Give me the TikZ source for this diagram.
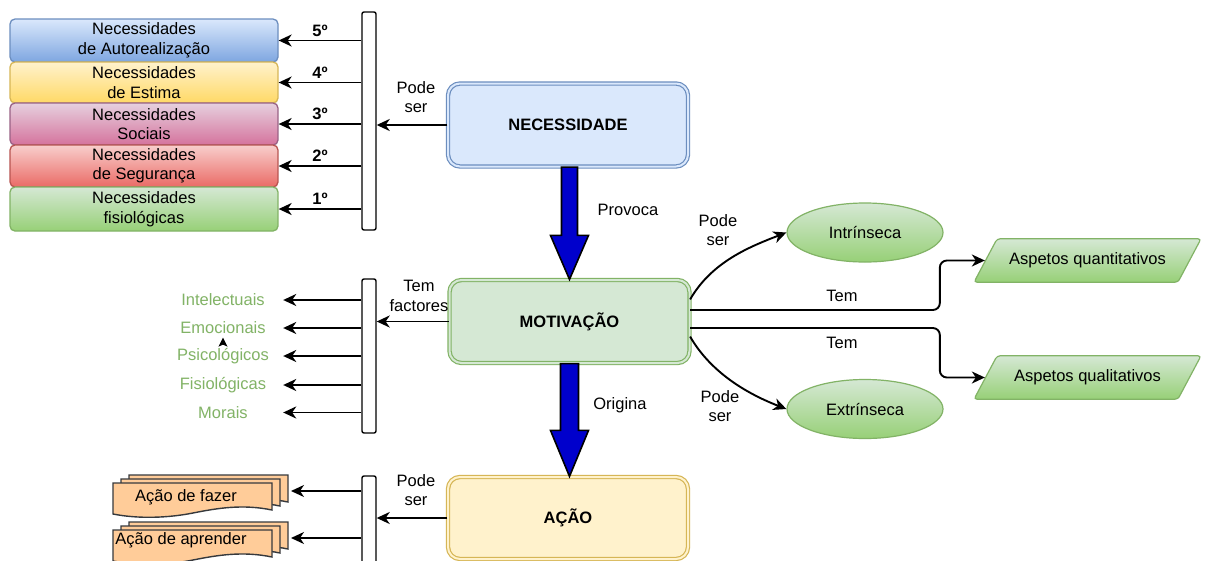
\documentclass[tikz,border=0pt]{standalone}
\usepackage{fontspec}
\setmainfont{Liberation Sans}
\usetikzlibrary{arrows.meta,calc,shapes.geometric}

\definecolor{blueTop}{HTML}{DAE8FC}
\definecolor{blueBot}{HTML}{7EA6E0}
\definecolor{blueLine}{HTML}{6C8EBF}
\definecolor{yelTop}{HTML}{FFF2CC}
\definecolor{yelBot}{HTML}{FFD966}
\definecolor{yelLine}{HTML}{D6B656}
\definecolor{pinkTop}{HTML}{E6D0DE}
\definecolor{pinkBot}{HTML}{D5739D}
\definecolor{pinkLine}{HTML}{996185}
\definecolor{redTop}{HTML}{F8CECC}
\definecolor{redBot}{HTML}{EA6B66}
\definecolor{redLine}{HTML}{B85450}
\definecolor{grnTop}{HTML}{D5E8D4}
\definecolor{grnBot}{HTML}{97D077}
\definecolor{grnLine}{HTML}{82B366}
\definecolor{factorGreen}{HTML}{82B366}
\definecolor{arrowBlue}{HTML}{0000CC}
\definecolor{docOrange}{HTML}{FFCC99}
\definecolor{docLine}{HTML}{36393D}

% three stacked document sheets; #1 left x, #2 top y, #3 connector end
\newcommand\docstack[3]{%
  \foreach \k in {2,1,0}{
    \filldraw[docsheet, shift={({#1+\k*8},{#2+8-\k*4})}]
      (0,0) -- (159,0) -- (159,27) .. controls (130,21) and (105,25) .. (80,30)
      .. controls (55,35) and (25,36) .. (0,31) -- cycle;
  }
  \coordinate (#3) at ({#1+178},{#2+16});
}

\begin{document}
\begin{tikzpicture}[x=1pt,y=-1pt,
  font=\fontsize{16.5}{19.5}\selectfont,
  every node/.style={align=center},
  arr/.style={line width=1.9pt,-{Stealth[length=13pt,width=12pt,inset=4pt]}},
  lvl/.style n args={3}{draw=#1,top color=#2,bottom color=#3,rounded corners=5pt,
    minimum width=268pt,line width=1.3pt,inner sep=0pt},
  bar/.style={draw,fill=white,minimum width=14pt,inner sep=0pt,rounded corners=2pt,line width=1.4pt},
  big/.style 2 args={draw=#1,fill=#2,double=#2,double distance=2pt,line width=1.2pt,
    rounded corners=12pt,minimum width=240pt,minimum height=83pt,font=\fontsize{16.5}{19.5}\selectfont\bfseries},
  bigarr/.style={fill=arrowBlue,draw=black,line width=1.6pt,line join=miter},
  ell/.style={ellipse,draw=grnLine,top color=grnTop,bottom color=grnBot,line width=1.2pt,
    minimum width=156pt,minimum height=59pt},
  para/.style={trapezium,trapezium left angle=62,trapezium right angle=118,trapezium stretches body,
    draw=grnLine,top color=grnTop,bottom color=grnBot,line width=1.2pt,rounded corners=3pt,
    inner ysep=14pt,minimum width=227pt},
  factor/.style={text=factorGreen,minimum width=120pt},
  docsheet/.style={fill=docOrange,draw=docLine,line width=1.4pt},
]
\useasboundingbox (0,0) rectangle (1205,560);
\fill[white] (0,0) rectangle (1205,560);

% Maslow levels
\node[lvl={blueLine}{blueTop}{blueBot},minimum height=43pt] (n5) at (144,40.5) {Necessidades\\de Autorealização};
\node[lvl={yelLine}{yelTop}{yelBot},minimum height=41pt] (n4) at (144,82.5) {Necessidades\\de Estima};
\node[lvl={pinkLine}{pinkTop}{pinkBot},minimum height=42pt] (n3) at (144,124) {Necessidades\\Sociais};
\node[lvl={redLine}{redTop}{redBot},minimum height=42pt] (n2) at (144,166) {Necessidades\\de Segurança};
\node[lvl={grnLine}{grnTop}{grnBot},minimum height=44pt] (n1) at (144,209) {Necessidades\\fisiológicas};

\node[bar,minimum height=218pt] (bar1) at (369,121) {};
\draw[arr] (bar1.west |- n5.east) -- node[above]{\textbf{5º}} (n5.east);
\draw[arr] (bar1.west |- n4.east) -- node[above]{\textbf{4º}} (n4.east);
\draw[arr] (bar1.west |- n3.east) -- node[above]{\textbf{3º}} (n3.east);
\draw[arr] (bar1.west |- n2.east) -- node[above]{\textbf{2º}} (n2.east);
\draw[arr] (bar1.west |- n1.east) -- node[above]{\textbf{1º}} (n1.east);

% central chain
\node[big={blueLine}{blueTop}] (nec) at (568,125) {NECESSIDADE};
\node[big={grnLine}{grnTop}] (mot) at (569.5,321.5) {MOTIVAÇÃO};
\node[big={yelLine}{yelTop},minimum height=82pt] (aca) at (568,518) {AÇÃO};

\draw[arr] (nec.west) -- (bar1.east |- nec.west);
\node at (416,97) {Pode\\ser};

\draw[bigarr] ($(nec.south -| mot.north)+(-8,0)$) -- ($(mot.north)+(-8,-44)$) -- ($(mot.north)+(-19,-44)$)
  -- (mot.north) -- ($(mot.north)+(19,-44)$) -- ($(mot.north)+(8,-44)$) -- ($(nec.south -| mot.north)+(8,0)$) -- cycle;
\node at (628,210) {Provoca};

\draw[bigarr] ($(mot.south)+(-9,0)$) -- ($(aca.north -| mot.south)+(-9,-46)$) -- ($(aca.north -| mot.south)+(-19,-46)$)
  -- (aca.north -| mot.south) -- ($(aca.north -| mot.south)+(19,-46)$) -- ($(aca.north -| mot.south)+(9,-46)$) -- ($(mot.south)+(9,0)$) -- cycle;
\node at (620,405) {Origina};

% factors
\node[bar,minimum height=154pt] (bar2) at (369,356) {};
\draw[arr] (mot.west) -- (bar2.east |- mot.west);
\node at (419,296) {Tem\\factores};
\node[factor] (f1) at (223,300) {Intelectuais};
\node[factor] (f2) at (223,328) {Emocionais};
\node[factor] (f3) at (223,356) {Psicológicos};
\node[factor] (f4) at (223,385) {Fisiológicas};
\node[factor] (f5) at (223,412.5) {Morais};
\foreach \f in {f1,f2,f3,f4,f5}{
  \draw[arr] (bar2.west |- \f.east) -- (\f.east);
}
\draw[line width=1pt,-{Stealth[length=9pt,width=9pt,inset=2pt]}] (f3.north) -- (f2.south);

% actions
\node[bar,minimum height=92pt] (bar3) at (369,522) {};
\draw[arr] (aca.west) -- (bar3.east |- aca.west);
\node at (416,490) {Pode\\ser};
\docstack{113}{475}{d1r}
\docstack{113}{522}{d2r}
\node (d1) at (186,497) {Ação de fazer};
\node (d2) at (181,540) {Ação de aprender};
\draw[arr] (bar3.west |- d1r) -- (d1r);
\draw[arr] (bar3.west |- d2r) -- (d2r);

% kinds and aspects of motivation
\node[ell] (intr) at (865,232.5) {Intrínseca};
\node[ell] (extr) at (865,409) {Extrínseca};
\node[para] (aqt) at (1087.5,260.5) {Aspetos quantitativos};
\node[para] (aql) at (1087.5,377.5) {Aspetos qualitativos};

\draw[arr] ($(mot.north east)+(0,20)$) .. controls +(22,-38) and +(-36,14) .. (intr.west);
\draw[arr] ($(mot.south east)+(0,-27)$) .. controls +(22,38) and +(-36,-14) .. (extr.west);
\node at (718,230) {Pode\\ser};
\node at (720,406) {Pode\\ser};

\draw[arr,rounded corners=7pt] ($(mot.east)+(0,-11.5)$) -| ($(aqt.west)+(-45,0)$) -- (aqt.west);
\draw[arr,rounded corners=7pt] ($(mot.east)+(0,6.5)$) -| ($(aql.west)+(-45,0)$) -- (aql.west);
\node at (842,296) {Tem};
\node at (842,343) {Tem};
\end{tikzpicture}
\end{document}
